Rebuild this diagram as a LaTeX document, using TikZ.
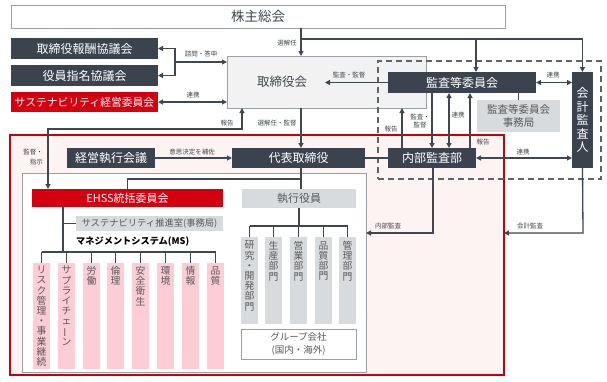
\documentclass[tikz,border=0pt]{standalone}
\usepackage{fontspec}
\usepackage{graphicx}
\setmainfont{Noto Sans CJK JP}
\usetikzlibrary{arrows.meta,calc}
\definecolor{dk}{HTML}{3B444E}
\definecolor{rd}{HTML}{D5000F}
\definecolor{rdl}{HTML}{C8000A}
\definecolor{pk}{HTML}{FDF3F3}
\definecolor{pkb}{HTML}{FCCDD4}
\definecolor{lg}{HTML}{D7DBDE}
\definecolor{ln}{HTML}{3F4851}
\definecolor{tx}{HTML}{595959}
\definecolor{bd}{HTML}{9AA0A6}
\definecolor{tg}{HTML}{F2F2F2}
\newcommand{\fsz}[1]{\fontsize{#1}{#1}\selectfont}
\newcommand{\vbar}{\rotatebox[origin=c]{90}{ー}}
\newcommand{\mybox}[7]{%
  \pgfmathsetmacro{\bxw}{#5-#3}\pgfmathsetmacro{\bxh}{#6-#4}%
  \pgfmathsetmacro{\bxcx}{(#3+#5)/2}\pgfmathsetmacro{\bxcy}{(#4+#6)/2}%
  \node[inner sep=0pt,outer sep=0pt,#1,minimum width=\bxw pt,minimum height=\bxh pt] (#2) at (\bxcx,\bxcy) {#7};}
\begin{document}
\begin{tikzpicture}[x=1pt,y=-1pt,
  dkbox/.style={fill=dk,text=white,font=\fsz{12}},
  rdbox/.style={fill=rd,text=white,font=\fsz{11.5}},
  lgbox/.style={fill=lg,text=tx,font=\fsz{11}},
  wbox/.style={fill=white,draw=bd,line width=0.8pt},
  pkbox/.style={fill=pkb},
  line/.style={draw=ln,line width=1.3pt},
  arr/.style={line,-{Triangle[length=5pt,width=5pt]}},
  darr/.style={line,{Triangle[length=5pt,width=5pt]}-{Triangle[length=5pt,width=5pt]}},
  lbl/.style={font=\fsz{6.5},text=ln,inner sep=0pt},
  vtxt/.style={align=center,inner sep=0pt,anchor=north,text=tx,font=\fontsize{9.8}{10.2}\selectfont}]
\useasboundingbox (0,0) rectangle (607,381);
\fill[white] (0,0) rectangle (607,381);

% top
\mybox{wbox,text=ln,font=\fsz{13.5}}{kabu}{11}{5}{505}{28}{株主総会}
\mybox{dkbox}{hoshu}{11}{38}{158}{59}{取締役報酬協議会}
\mybox{dkbox}{shimei}{11}{65}{158}{86}{役員指名協議会}
\mybox{rdbox,font=\fsz{10.8}}{sus}{11}{92}{158}{112}{サステナビリティ経営委員会}
\mybox{fill=tg,draw=bd,line width=0.8pt}{tori}{227}{56}{426}{108}{}
\node[text=ln,font=\fsz{12.5}] (toritxt) at (282,82) {取締役会};

% executive area
\mybox{fill=pk,draw=rdl,line width=2pt}{area}{10}{135}{504}{375}{}
\mybox{wbox}{exec}{22}{173}{366}{372}{}
\mybox{draw=ln!85,line width=1.3pt,dash pattern=on 6pt off 4pt}{aud}{378}{61}{601}{179}{}

\mybox{dkbox}{kansa}{388}{72}{536}{93}{監査等委員会}
\mybox{dkbox,align=center,font=\fontsize{12}{13.5}\selectfont}{kaikei}{572}{72}{593}{168}{会\\計\\監\\査\\人}
\mybox{lgbox,align=center,font=\fontsize{10.5}{13}\selectfont}{jim}{477}{100}{560}{132}{監査等委員会\\事務局}
\mybox{dkbox}{naibu}{388}{148}{476}{168}{内部監査部}
\mybox{dkbox}{daihyo}{232}{148}{365}{168}{代表取締役}
\mybox{dkbox}{keiei}{67}{148}{155}{168}{経営執行会議}
\mybox{rdbox,font=\fsz{11}}{ehss}{32}{189}{223}{207}{EHSS統括委員会}
\mybox{lgbox}{shikko}{242}{189}{356}{208}{執行役員}
\mybox{lgbox,font=\fsz{9.3}}{suishin}{76}{216}{223}{231}{サステナビリティ推進室(事務局)}
\node[anchor=west,inner sep=0pt,font=\bfseries\fsz{9.2},text=black] (ms) at (76,242) {マネジメントシステム(MS)};

% pink MS boxes
\mybox{pkbox}{p1}{33}{263}{50}{369}{}
\mybox{pkbox}{p2}{58}{263}{75}{369}{}
\mybox{pkbox}{p3}{83}{263}{100}{369}{}
\mybox{pkbox}{p4}{107}{263}{124}{369}{}
\mybox{pkbox}{p5}{132}{263}{149}{369}{}
\mybox{pkbox}{p6}{157}{263}{174}{369}{}
\mybox{pkbox}{p7}{182}{263}{199}{369}{}
\mybox{pkbox}{p8}{207}{263}{224}{369}{}
\node[vtxt] (pt1) at ([yshift=-3pt]p1.north) {リ\\ス\\ク\\管\\理\\・\\事\\業\\継\\続};
\node[vtxt] (pt2) at ([yshift=-3pt]p2.north) {サ\\プ\\ラ\\イ\\チ\\ェ\\\vbar\\ン};
\node[vtxt] (pt3) at ([yshift=-3pt]p3.north) {労\\働};
\node[vtxt] (pt4) at ([yshift=-3pt]p4.north) {倫\\理};
\node[vtxt] (pt5) at ([yshift=-3pt]p5.north) {安\\全\\衛\\生};
\node[vtxt] (pt6) at ([yshift=-3pt]p6.north) {環\\境};
\node[vtxt] (pt7) at ([yshift=-3pt]p7.north) {情\\報};
\node[vtxt] (pt8) at ([yshift=-3pt]p8.north) {品\\質};

% executive departments
\mybox{fill=lg}{d1}{241}{237}{258}{324}{}
\mybox{fill=lg}{d2}{265}{237}{282}{324}{}
\mybox{fill=lg}{d3}{290}{237}{307}{324}{}
\mybox{fill=lg}{d4}{315}{237}{332}{324}{}
\mybox{fill=lg}{d5}{339}{237}{356}{324}{}
\node[vtxt] (dt1) at ([yshift=-4pt]d1.north) {研\\究\\・\\開\\発\\部\\門};
\node[vtxt] (dt2) at ([yshift=-4pt]d2.north) {生\\産\\部\\門};
\node[vtxt] (dt3) at ([yshift=-4pt]d3.north) {営\\業\\部\\門};
\node[vtxt] (dt4) at ([yshift=-4pt]d4.north) {品\\質\\部\\門};
\node[vtxt] (dt5) at ([yshift=-4pt]d5.north) {管\\理\\部\\門};
\mybox{wbox,align=center,text=tx,font=\fontsize{9.5}{13}\selectfont}{group}{241}{329}{356}{359}{グループ会社\\(国内・海外)}

% helper coordinates
\coordinate (t1) at (301,0);
\coordinate (br) at (301,39);
\coordinate (k2) at (476,0);
\coordinate (sj) at (175,62);
\coordinate (hk) at (242,129);
\coordinate (e1) at (48,0);
\coordinate (vA) at (402,0);
\coordinate (vB) at (432,0);
\coordinate (vC) at (449,0);
\coordinate (vD) at (470,0);
\coordinate (br2) at (301,179);
\coordinate (sb) at (299,226);
\coordinate (ev) at (63,0);
\coordinate (msb) at (63,252);
\coordinate (ia) at (433,233);
\coordinate (ka) at (583,233);

% connectors top
\draw[arr] (t1 |- kabu.south) -- (t1 |- tori.north);
\draw[arr] (br) -| (kaikei.north);
\draw[arr] (k2 |- br) -- (k2 |- kansa.north);
\draw[arr] (sj) -- (sj -| tori.west);
\draw[arr] (sj) |- (hoshu.east);
\draw[arr] (sj) |- (shimei.east);
\draw[darr] (sus.east |- 0,102) -- (tori.west |- 0,102);
\draw[arr] (kansa.west) -- ++(-63,0);
\draw[darr] (kansa.east) -- (kansa.east -| kaikei.west);
\draw[line] (kansa.south -| jim.north) -- (jim.north);
\draw[arr] (vA |- naibu.north) -- (vA |- tori.south);
\draw[arr] (vB |- kansa.south) -- (vB |- naibu.north);
\draw[darr] (vC |- kansa.south) -- (vC |- naibu.north);
\draw[arr] (vD |- naibu.north) -- (vD |- kansa.south);
\draw[darr] (naibu.east) -- (naibu.east -| kaikei.west);
\draw[arr] (t1 |- tori.south) -- (t1 |- daihyo.north);
\draw[darr] (e1 |- ehss.north) |- (hk) -- (hk |- tori.south);
\draw[arr] (keiei.east) -- (daihyo.west);
\draw[line] (daihyo.east) -- (naibu.west);
\draw[line] (br2 |- daihyo.south) -- (br2 |- shikko.north);
\draw[line] (br2) -| (ehss.north);
\draw[line] (sb |- shikko.south) -- (sb);
\draw[line] (d1.north |- sb) -- (d5.north |- sb);
\foreach \d in {d1,d2,d3,d4,d5} \draw[line] (\d.north |- sb) -- (\d.north);
\draw[line] (ev |- ehss.south) -- (msb);
\draw[line] (ev |- suishin.west) -- (suishin.west);
\draw[line] (p1.north |- msb) -- (p8.north |- msb);
\foreach \p in {p1,p2,p3,p4,p5,p6,p7,p8} \draw[line] (\p.north |- msb) -- (\p.north);
\draw[arr] (ia |- naibu.south) -- (ia) -- (ia -| exec.east);
\draw[arr] (kaikei.south) -- (ka) -- (ka -| area.east);

% labels
\node[lbl,anchor=east] (l1) at (297,43) {選解任};
\node[lbl] (l2) at (201,54) {諮問・答申};
\node[lbl] (l3) at (193,95) {連携};
\node[lbl] (l4) at (349,75) {監査・監督};
\node[lbl] (l5) at (553,75) {連携};
\node[lbl] (l6) at (391,129) {報告};
\node[lbl,align=center,font=\fontsize{6.5}{8.5}\selectfont] (l7) at (420,121) {監査・\\監督};
\node[lbl] (l8) at (458,115) {連携};
\node[lbl] (l9) at (483,142) {報告};
\node[lbl] (l10) at (523,152) {連携};
\node[lbl] (l11) at (227,123) {報告};
\node[lbl] (l12) at (277,123) {選解任・監督};
\node[lbl,align=right,anchor=east,font=\fontsize{6.5}{10}\selectfont] (l13) at (43,157) {監督・\\指示};
\node[lbl] (l14) at (192,152) {意思決定を補佐};
\node[lbl] (l15) at (388,226) {内部監査};
\node[lbl] (l16) at (530,226) {会計監査};
\end{tikzpicture}
\end{document}
